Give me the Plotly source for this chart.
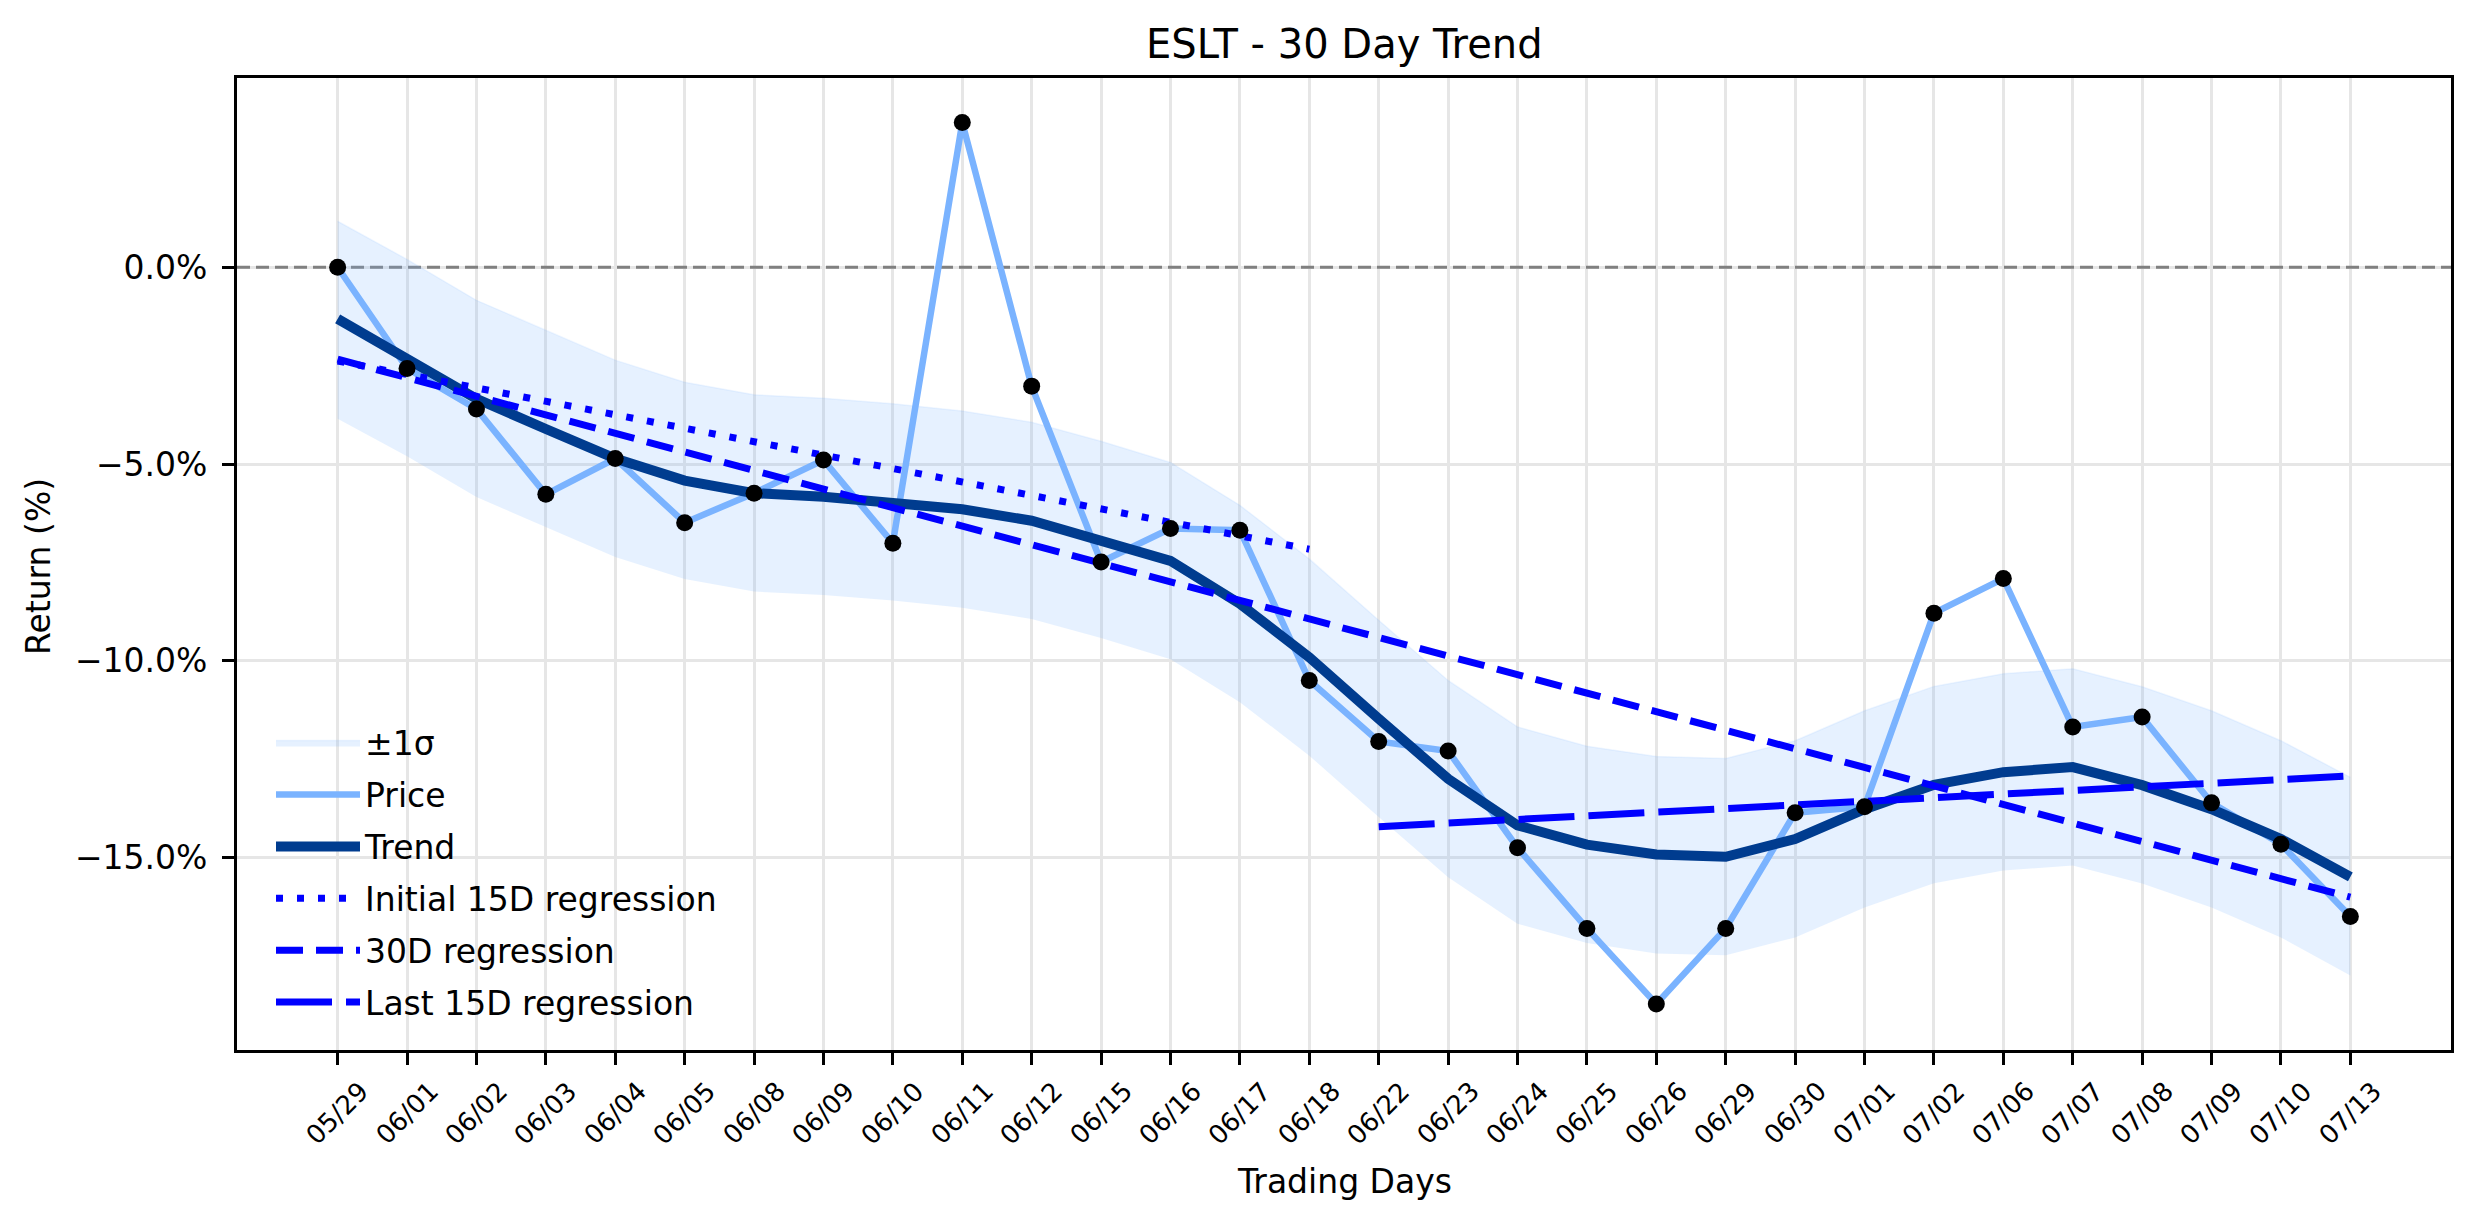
import numpy as np
import plotly.graph_objects as go

# ---------------- data ----------------
dates = ["05/29", "06/01", "06/02", "06/03", "06/04", "06/05", "06/08", "06/09", "06/10", "06/11",
         "06/12", "06/15", "06/16", "06/17", "06/18", "06/22", "06/23", "06/24", "06/25", "06/26",
         "06/29", "06/30", "07/01", "07/02", "07/06", "07/07", "07/08", "07/09", "07/10", "07/13"]

price = [0.00, -2.57, -3.60, -5.77, -4.86, -6.49, -5.74, -4.90, -7.01, 3.68,
         -3.02, -7.49, -6.64, -6.68, -10.50, -12.05, -12.29, -14.75, -16.80, -18.72,
         -16.80, -13.86, -13.71, -8.79, -7.91, -11.68, -11.43, -13.61, -14.66, -16.50]

trend = [-1.31, -2.30, -3.34, -4.11, -4.86, -5.42, -5.74, -5.83, -5.97, -6.15,
         -6.44, -6.92, -7.46, -8.55, -9.91, -11.47, -13.00, -14.18, -14.67, -14.92,
         -14.98, -14.53, -13.77, -13.15, -12.83, -12.70, -13.16, -13.77, -14.53, -15.49]

band_upper = [1.17, 0.20, -0.84, -1.61, -2.36, -2.92, -3.24, -3.33, -3.47, -3.65,
              -3.94, -4.42, -4.96, -6.05, -7.41, -8.97, -10.50, -11.68, -12.17, -12.43,
              -12.48, -12.03, -11.27, -10.65, -10.33, -10.20, -10.66, -11.27, -12.03, -12.96]

band_lower = [-3.85, -4.80, -5.84, -6.61, -7.36, -7.92, -8.24, -8.33, -8.47, -8.65,
              -8.94, -9.42, -9.96, -11.05, -12.41, -13.97, -15.50, -16.68, -17.17, -17.44,
              -17.48, -17.03, -16.27, -15.65, -15.33, -15.20, -15.66, -16.27, -17.03, -18.00]

baseline = 0.0
x_range = [-1.45, 30.45]
y_range = [-19.89, 4.81]
y_tick_vals = [0, -5, -10, -15]
y_tick_text = ["0.0%", "\u22125.0%", "\u221210.0%", "\u221215.0%"]

x_idx = list(range(len(dates)))


def regression(i0, i1):
    xs = np.arange(i0, i1 + 1)
    k, b = np.polyfit(xs, np.array(price[i0:i1 + 1]), 1)
    return xs, k * xs + b


init_x, init_y = regression(0, 14)
full_x, full_y = regression(0, len(price) - 1)
last_x, last_y = regression(15, len(price) - 1)

# ---------------- style ----------------
FONT = "DejaVu Sans"
C_PRICE = "#7AB3FF"
C_TREND = "#003C8F"
C_REG = "#0000FF"

fig = go.Figure()

# zero reference line (spans the whole x axis)
fig.add_trace(go.Scatter(x=x_range, y=[baseline, baseline], mode="lines",
                         line=dict(color="#808080", width=3, dash="13px,6px"),
                         showlegend=False, hoverinfo="skip", legendgroup="zero"))

fig.add_trace(go.Scatter(x=x_idx, y=band_lower, mode="lines", line=dict(width=0, color="rgba(122,179,255,0)"),
                         showlegend=False, hoverinfo="skip", legendgroup="band"))
fig.add_trace(go.Scatter(x=x_idx, y=band_upper, mode="lines", fill="tonexty",
                         fillcolor="rgba(122,179,255,0.19)",
                         line=dict(width=1.5, color="rgba(122,179,255,0.12)"),
                         name="\u00b11\u03c3", legendgroup="band"))
fig.add_trace(go.Scatter(x=x_idx, y=price, mode="lines", line=dict(width=6.5, color=C_PRICE),
                         name="Price", legendgroup="price"))
fig.add_trace(go.Scatter(x=x_idx, y=trend, mode="lines", line=dict(width=10, color=C_TREND),
                         name="Trend", legendgroup="trend"))
fig.add_trace(go.Scatter(x=init_x, y=init_y, mode="lines",
                         line=dict(width=7, color=C_REG, dash="7px,14px"),
                         name="Initial 15D regression", legendgroup="init"))
fig.add_trace(go.Scatter(x=full_x, y=full_y, mode="lines",
                         line=dict(width=7, color=C_REG, dash="27px,13px"),
                         name="30D regression", legendgroup="full"))
fig.add_trace(go.Scatter(x=last_x, y=last_y, mode="lines",
                         line=dict(width=7, color=C_REG, dash="56px,14px"),
                         name="Last 15D regression", legendgroup="last"))
fig.add_trace(go.Scatter(x=x_idx, y=price, mode="markers",
                         marker=dict(size=17, color="black"),
                         showlegend=False, hoverinfo="skip", legendgroup="pts"))

annotations = []
for i, d in enumerate(dates):
    annotations.append(dict(x=i, xref="x", y=-0.0653, yref="paper", text=d, showarrow=False,
                            textangle=-45, xanchor="center", yanchor="middle",
                            font=dict(family=FONT, size=26, color="black")))
annotations.append(dict(x=0.5, xref="paper", y=-0.135, yref="paper", text="Trading Days",
                        showarrow=False, xanchor="center", yanchor="middle",
                        font=dict(family=FONT, size=33, color="black")))
annotations.append(dict(x=-0.0894, xref="paper", y=0.497, yref="paper", text="Return (%)",
                        showarrow=False, textangle=-90, xanchor="center", yanchor="middle",
                        font=dict(family=FONT, size=33, color="black")))
annotations.append(dict(x=0.5, xref="paper", y=1.035, yref="paper", text="ESLT - 30 Day Trend",
                        showarrow=False, xanchor="center", yanchor="middle",
                        font=dict(family=FONT, size=40, color="black")))

fig.update_layout(
    width=2474, height=1224, autosize=False,
    margin=dict(l=237, r=23, t=78, b=174, pad=0),
    paper_bgcolor="white", plot_bgcolor="white",
    font=dict(family=FONT, size=33, color="black"),
    showlegend=True,
    legend=dict(x=(271 - 237) / 2214, y=0.345, xanchor="left", yanchor="top",
                bgcolor="rgba(0,0,0,0)", borderwidth=0,
                font=dict(family=FONT, size=33, color="black"),
                itemwidth=84, tracegroupgap=6),
    annotations=annotations,
    xaxis=dict(range=x_range, tickmode="array", tickvals=x_idx, showticklabels=False,
               ticks="outside", ticklen=12, tickwidth=2.7, tickcolor="black",
               showgrid=True, gridcolor="#e6e6e6", gridwidth=2.7,
               showline=True, linecolor="black", linewidth=3, mirror=True, zeroline=False),
    yaxis=dict(range=y_range, tickmode="array", tickvals=y_tick_vals, ticktext=y_tick_text,
               ticks="outside", ticklen=12, tickwidth=2.7, tickcolor="black",
               tickfont=dict(family=FONT, size=33, color="black"), ticklabelstandoff=8,
               showgrid=True, gridcolor="#e6e6e6", gridwidth=2.7,
               showline=True, linecolor="black", linewidth=3, mirror=True, zeroline=False),
)

fig.write_html("out.html")
